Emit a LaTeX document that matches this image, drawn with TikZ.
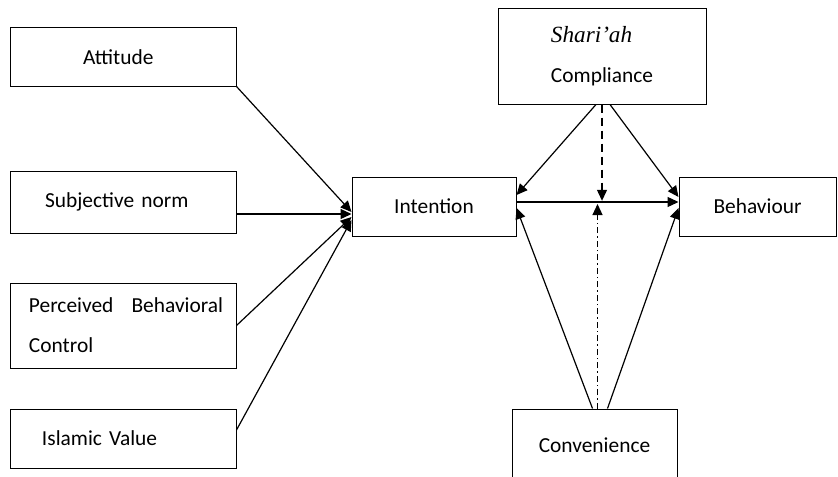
\documentclass[tikz,border=0pt]{standalone}
\usepackage{fontspec}
\setmainfont{Carlito}
\newfontfamily\shfont{Liberation Serif}
\usetikzlibrary{arrows.meta}
\begin{document}
\begin{tikzpicture}[x=0.5pt, y=-0.5pt]
\useasboundingbox (0,0) rectangle (838,476);
\begin{scope}[every node/.style={draw, line width=0.5pt, inner sep=0pt, font=\fontsize{10.7}{13}\selectfont}]
    \node[text width=112.75pt, align=left, minimum height=29pt] (att) at (123.25,57) {\hspace*{36.25pt}Attitude};
    \node[text width=112.75pt, align=left, minimum height=31pt] (subj) at (123.25,202) {\hspace*{17.25pt}Subjective norm};
    \node[text width=112.75pt, align=left, minimum height=42.5pt, font=\fontsize{10.7}{20}\selectfont] (pbc) at (123.25,325.5) {\hspace*{9.25pt}\makebox[97pt]{Perceived\hfill Behavioral}\\\hspace*{9.25pt}Control};
    \node[text width=112.75pt, align=left, minimum height=29.5pt] (isl) at (123.25,438.5) {\hspace*{15.75pt}Islamic Value};
    \node[minimum width=82pt, minimum height=29.5pt] (int) at (434,206.5) {Intention};
    \node[minimum width=104pt, minimum height=47.5pt, align=left, font=\fontsize{10.7}{20}\selectfont] (sha) at (602,56.5) {{\shfont\itshape\fontsize{11.6}{20}\selectfont Shari’ah}\\Compliance};
    \node[minimum width=78.5pt, minimum height=29.5pt] (beh) at (757.5,206.5) {Behaviour};
    \node[minimum width=82.5pt, minimum height=36pt] (con) at (594.5,445) {Convenience};
\end{scope}
\coordinate (ie) at ([yshift=2.25pt]int.east);
\coordinate (bw) at ([yshift=2.25pt]beh.west);
\begin{scope}[every edge/.style={draw=black, line width=0.6pt, -{Triangle[length=5.5pt, width=5pt]}}]
    \path (att.south east) edge ([yshift=-2.75pt]int.west);
    \path ([yshift=-6pt]subj.east) edge ([yshift=-3.75pt]int.west);
    \path (pbc.east) edge ([yshift=-5.25pt]int.west);
    \path ([yshift=4.25pt]isl.east) edge ([yshift=-6.75pt]int.west);
    \path ([xshift=-3pt]sha.south) edge ([yshift=5.75pt]int.east);
    \path ([xshift=4pt]sha.south) edge ([yshift=4.75pt]beh.west);
    \path (ie) edge (bw);
    \path (sha.south) edge[dashed, dash pattern=on 4pt off 2.5pt] ([yshift=0.6pt]sha.south |- ie);
    \path ([xshift=-1pt]con.north) edge ([yshift=-0.75pt]int.east);
    \path ([xshift=6.5pt]con.north) edge ([yshift=-0.75pt]beh.west);
    \path ([xshift=1.5pt]con.north) edge[dash pattern=on 3pt off 1.5pt on 0.75pt off 1.5pt] ([xshift=1.5pt, yshift=-1pt]con.north |- ie);
\end{scope}
\end{tikzpicture}
\end{document}
